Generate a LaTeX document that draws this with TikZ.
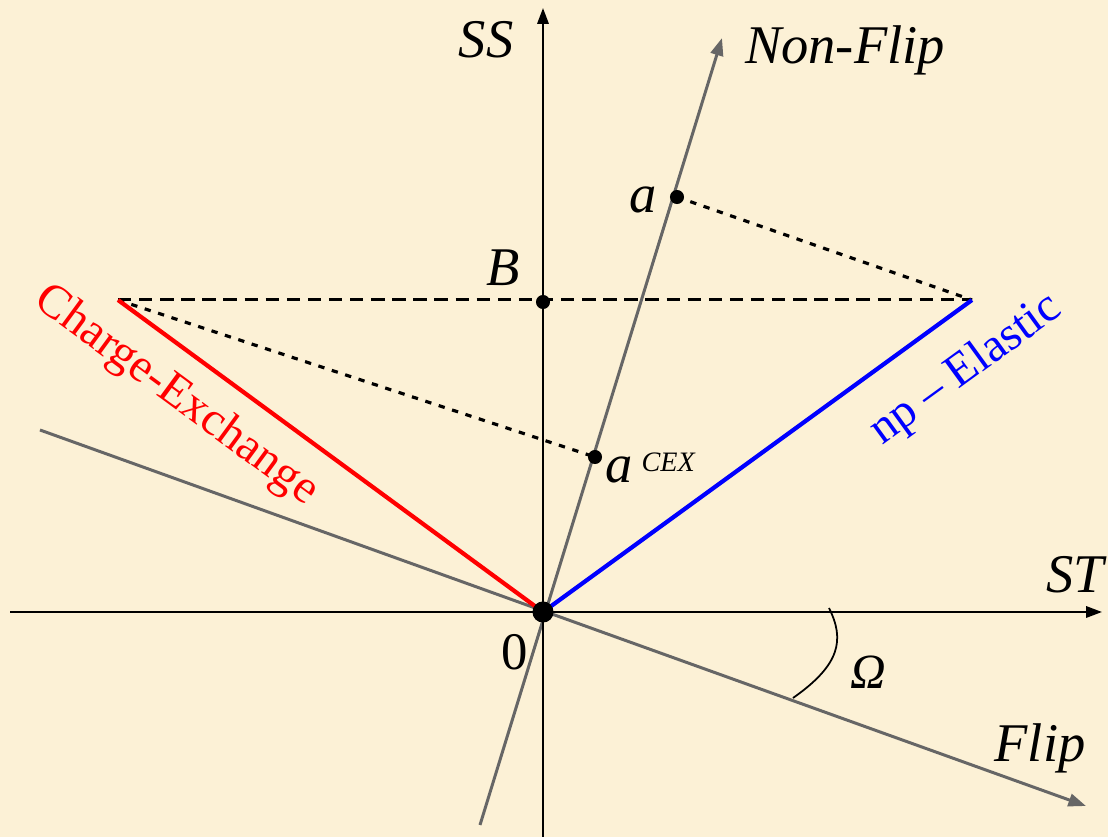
\documentclass[tikz,border=0pt]{standalone}
\usepackage{fontspec}
\setmainfont{Liberation Serif}
\usetikzlibrary{arrows.meta,calc}
\definecolor{cBG}{HTML}{FCF1D6}
\definecolor{cAxis}{HTML}{000000}
\definecolor{cGrey}{HTML}{666666}
\definecolor{cCEX}{HTML}{FF0000}
\definecolor{cNP}{HTML}{0000FF}
\tikzset{
  axis/.style={line width=0.65pt,cAxis,-{Triangle[length=4.5pt,width=3.2pt]}},
  ampl/.style={line width=0.85pt,cGrey,-{Triangle[length=5pt,width=3.6pt]}},
  chan/.style={line width=1.2pt},
  proj/.style={line width=0.9pt,dash pattern=on 1.8pt off 2.2pt},
  level/.style={line width=0.85pt,dash pattern=on 3.8pt off 2.2pt},
  lbl/.style={font=\fontsize{15.5}{18}\selectfont\itshape,inner sep=0pt},
  chlbl/.style={font=\fontsize{13.5}{16}\selectfont,inner sep=0pt},
  dot/.style={circle,fill=black,inner sep=0pt,minimum size=4pt},
}
\begin{document}
\begin{tikzpicture}[x=0.01cm,y=-0.01cm]
\fill[cBG] (0,0) rectangle (1108,837);
\useasboundingbox (0,0) rectangle (1108,837);

% ---------- points ----------
\coordinate (O) at (543,612);
\coordinate (SSbot) at (543,837);
\coordinate (SStop) at (543,8);
\coordinate (STleft) at (10,612);
\coordinate (STright) at (1102,612);
\coordinate (NFbot) at (480,825);
\coordinate (NFtop) at (722,38);
\coordinate (Fleft) at (40,430);
\coordinate (Fright) at (1086,806);
\coordinate (CE) at (118,300);
\coordinate (NP) at (972,300);
\coordinate (B) at (543,302);
\coordinate (a) at (677,197);
\coordinate (aCEX) at (595,457);

% ---------- amplitude directions ----------
\draw[ampl] (NFbot) -- (NFtop);
\draw[ampl] (Fleft) -- (Fright);

% ---------- axes ----------
\draw[axis] (SSbot) -- (SStop);
\draw[axis] (STleft) -- (STright);

% ---------- level + projections ----------
\draw[level] (CE) -- (NP);
\draw[proj] (a) -- (NP);
\draw[proj] (CE) -- (aCEX);

% ---------- channels ----------
\draw[chan,cCEX] (CE) -- (O);
\draw[chan,cNP] (O) -- (NP);

% ---------- angle ----------
\coordinate (om1) at (829,608);
\coordinate (om2) at (793,698);
\draw[line width=0.5pt] (om1) .. controls (845,640) and (840,665) .. (om2);

% ---------- dots ----------
\node[dot,minimum size=6pt] at (O) {};
\node[dot] at (B) {};
\node[dot] at (a) {};
\node[dot] at (aCEX) {};

% ---------- labels ----------
\node[lbl] (lSS) at (486,40) {SS};
\node[lbl] (lNF) at (845,50) {Non-Flip};
\node[lbl] (la) at (643,200) {a};
\node[lbl] (lB) at (503,268) {B};
\node[lbl] (laCEX) at (619,470) {a};
\node[lbl,font=\fontsize{8}{10}\selectfont\itshape,anchor=west] (lCEX) at (641,462) {CEX};
\node[lbl] (lST) at (1075,575) {ST};
\node[lbl,font=\fontsize{15}{18}\selectfont] (l0) at (515,652) {0};
\node[lbl,font=\fontsize{14}{16}\selectfont\itshape] (lOm) at (868,672) {Ω};
\node[lbl] (lF) at (1040,748) {Flip};
\node[chlbl,text=cCEX,rotate=-36.3] (lCE) at (176,396) {Charge-Exchange};
\node[chlbl,text=cNP,rotate=36] (lNP) at (966,370) {np – Elastic};

\end{tikzpicture}
\end{document}
